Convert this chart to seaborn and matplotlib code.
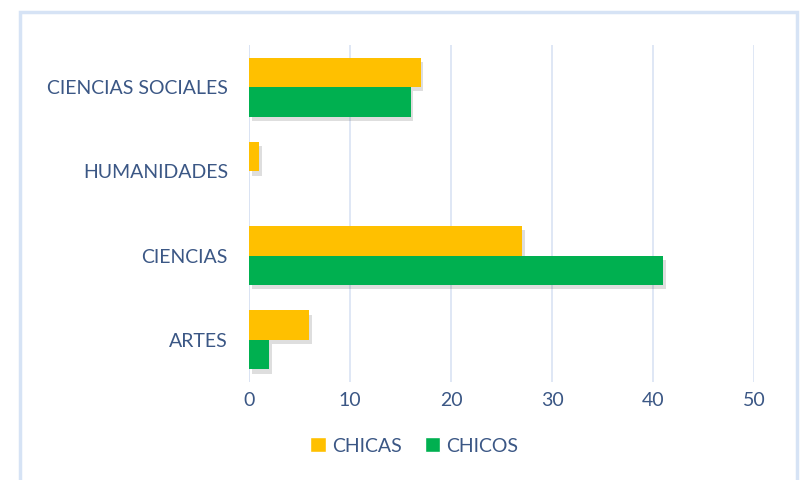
import matplotlib
matplotlib.use("Agg")
import matplotlib.pyplot as plt
import matplotlib.patheffects as pe
from matplotlib.patches import Rectangle, Patch
import pandas as pd
import seaborn as sns

areas = ["CIENCIAS SOCIALES", "HUMANIDADES", "CIENCIAS", "ARTES"]
chicas = [17, 1, 27, 6]
chicos = [16, 0, 41, 2]
groups = ["CHICAS", "CHICOS"]
colors = {"CHICAS": "#FFC000", "CHICOS": "#00B050"}
text_color = "#3B5785"
grid_color = "#D9E3F3"

sns.set_theme(style="white")
plt.rcParams["font.family"] = ["Lato", "DejaVu Sans"]

df = pd.DataFrame({
    "area": areas * 2,
    "valor": chicas + chicos,
    "grupo": [groups[0]] * len(areas) + [groups[1]] * len(areas),
})

fig = plt.figure(figsize=(8, 4.8), dpi=100)
ax = fig.add_axes([0.311, 0.204, 0.632, 0.702])

sns.barplot(data=df, y="area", x="valor", hue="grupo", order=areas,
            hue_order=groups, palette=colors, width=0.7, orient="h",
            saturation=1, linewidth=0, legend=False, ax=ax)

# soft drop shadow like the office chart
shadow = [pe.SimplePatchShadow(offset=(2, -3), shadow_rgbFace="black",
                               alpha=0.13), pe.Normal()]
for bar in ax.patches:
    bar.set_linewidth(0)
    bar.set_path_effects(shadow)
    bar.set_zorder(3)

ax.set_xlim(0, 50)
ax.set_xticks(range(0, 51, 10))
ax.xaxis.grid(True, color=grid_color, lw=1.2, zorder=0)
ax.set_axisbelow(True)
for s in ax.spines.values():
    s.set_visible(False)
ax.axvline(0, color=grid_color, lw=1.2, zorder=1)
ax.set_xlabel("")
ax.set_ylabel("")
ax.tick_params(axis="x", length=0, pad=7, labelsize=14, labelcolor=text_color)
ax.tick_params(axis="y", length=0, pad=15, labelsize=14, labelcolor=text_color)

handles = [Patch(facecolor=colors[g], label=g) for g in groups]
fig.legend(handles=handles, loc="center", bbox_to_anchor=(0.518, 0.071),
           ncol=2, frameon=False, fontsize=14, labelcolor=text_color,
           handlelength=0.8, handleheight=0.8, handletextpad=0.3,
           columnspacing=1.2)

fig.patches.append(Rectangle((20 / 800, -0.05), 777 / 800, 1.05 - 12 / 480,
                             transform=fig.transFigure, fill=False,
                             edgecolor="#D6E3F5", lw=2.5))

fig.savefig("out.png", dpi=100)
